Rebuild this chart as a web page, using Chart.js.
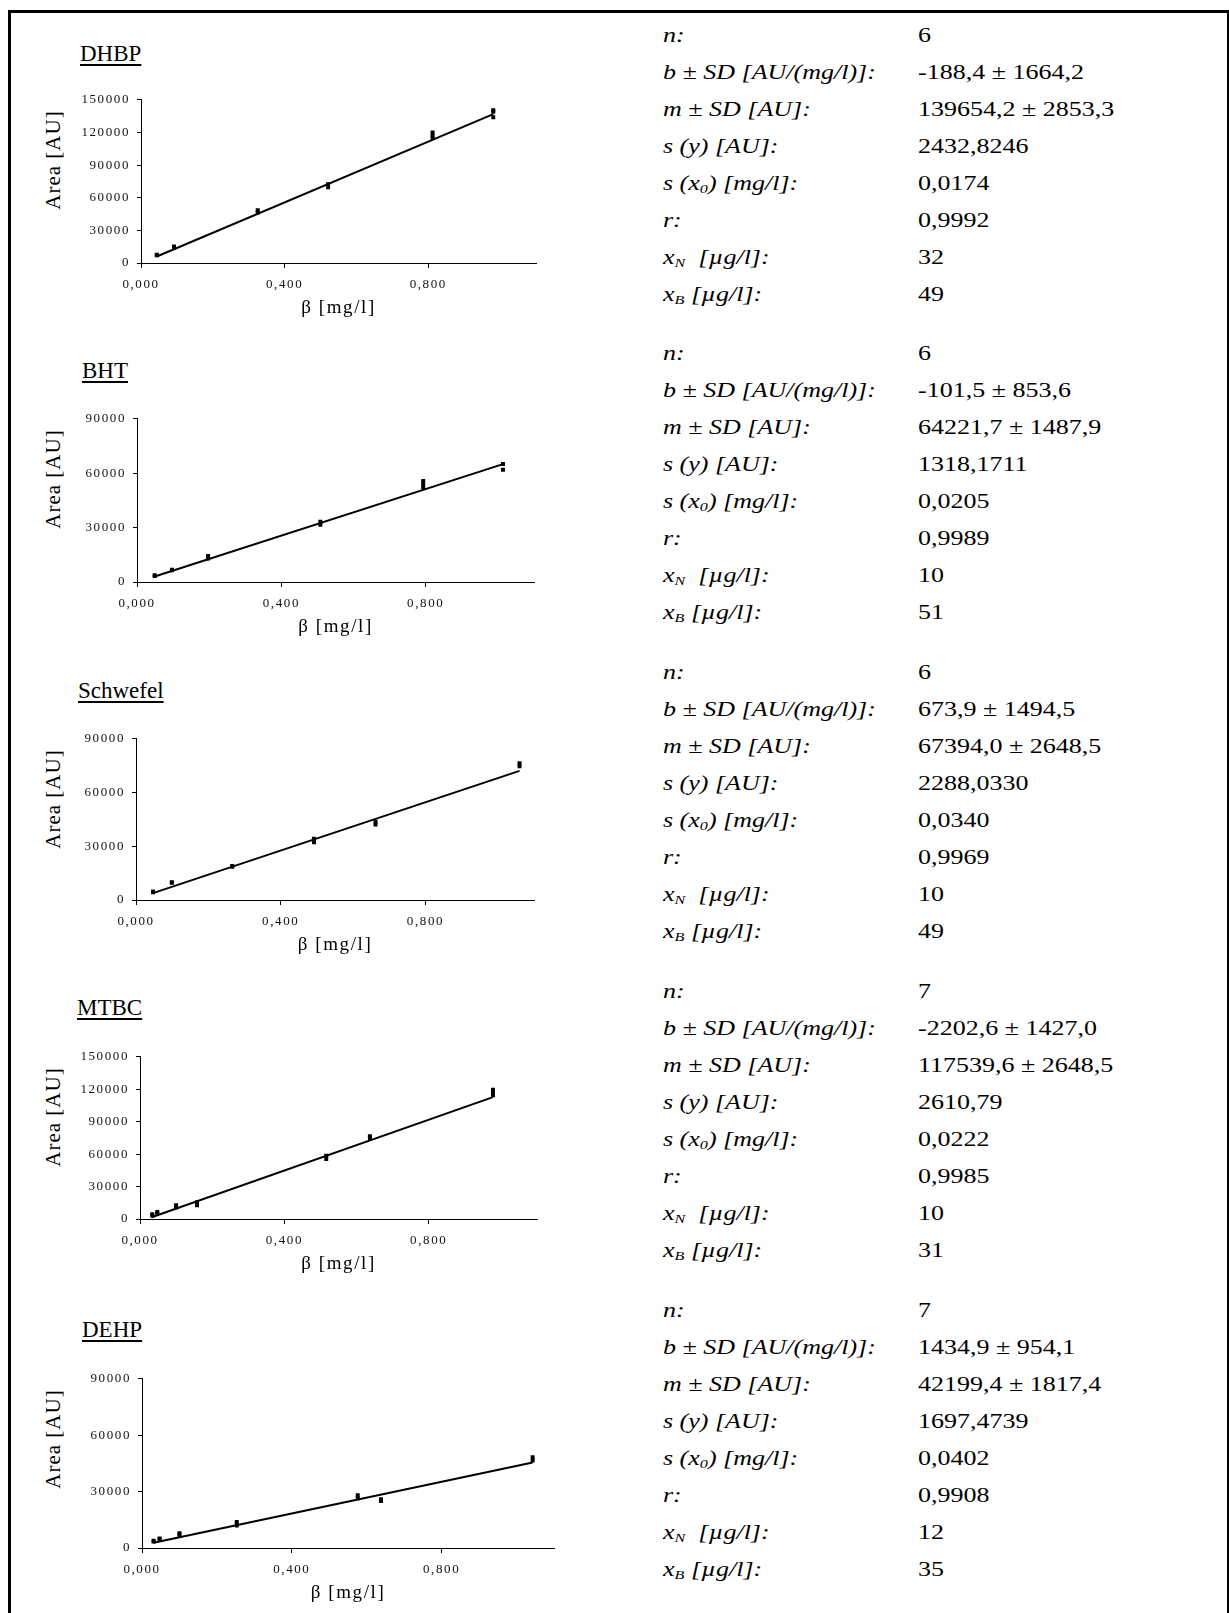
<!DOCTYPE html>
<html lang="de">
<head>
<meta charset="utf-8">
<title>Kalibrierfunktionen</title>
<script src="https://cdn.jsdelivr.net/npm/chart.js@4.4.1/dist/chart.umd.min.js"></script>
<style>
  html, body { margin: 0; padding: 0; background: #fff; }
  #page { position: relative; width: 1229px; height: 1613px; overflow: hidden; background: #fff;
          font-family: "Liberation Serif", "Times New Roman", serif; color: #000; }
  #frame { position: absolute; left: 8px; top: 10px; width: 1216px; height: 1700px;
           border-top: 3px solid #000; border-left: 3px solid #000; border-right: 2px solid #000; }
  canvas.cal { position: absolute; }
  .ptitle { position: absolute; font-size: 23px; line-height: 23px; text-decoration: underline;
            text-decoration-thickness: 1.6px; text-underline-offset: 3px; white-space: nowrap; }
  .ytitle { position: absolute; font-size: 21px; letter-spacing: 1px; white-space: nowrap;
            transform: translate(-50%, -50%) rotate(-90deg); }
  .row { position: absolute; height: 37px; line-height: 37px; font-size: 20px; white-space: nowrap; }
  .row span { display: inline-block; transform: scaleX(1.3); transform-origin: 0 50%; }
  .lab { left: 663px; font-style: italic; }
  .val { left: 918px; }
  sub { font-size: 0.62em; vertical-align: -0.28em; line-height: 0; }
</style>
</head>
<body>
<div id="page">
  <div id="frame"></div>
</div>
<script>
// Substances and their calibration levels (mg/l) with replicate peak areas (AU)
const substances = ['DHBP', 'BHT', 'Schwefel', 'MTBC', 'DEHP'];

const concDHBP = [0.044, 0.092, 0.325, 0.521, 0.812, 0.981];
const areaDHBP = [[7200, 7600], [14000, 15200], [46500, 48500], [69500, 72500], [115000, 117500, 120000], [134000, 139000, 140500]];

const concBHT = [0.049, 0.097, 0.197, 0.508, 0.793, 1.014];
const areaBHT = [[3300, 3700], [6400, 6800], [13000, 14300], [31600, 33200], [52100, 53900, 55700], [61900, 65100]];

const concSchwefel = [0.047, 0.099, 0.266, 0.492, 0.662, 1.060];
const areaSchwefel = [[4300, 4700], [9600, 9900], [18600, 19000], [32200, 34200], [42100, 43700], [74700, 76300]];

const concMTBC = [0.034, 0.048, 0.100, 0.158, 0.516, 0.637, 0.978];
const areaMTBC = [[3000, 4500], [5200, 6500], [10800, 12800], [12600, 15500], [55500, 58500], [74800, 76500], [114500, 117500, 119500]];

const concDEHP = [0.031, 0.047, 0.100, 0.253, 0.576, 0.638, 1.043];
const areaDEHP = [[3500, 3900], [4500, 5000], [7000, 7800], [12000, 13800], [26400, 28100], [25000, 26000], [46500, 48300]];

// Axis ranges and tick steps
const yMaxima = [150000, 90000, 90000, 150000, 90000];
const yStep = 30000;
const xMax = 1.1;
const xStep = 0.4;

// Regression statistics per substance
const nLevels = [6, 6, 6, 7, 7];
const intercepts = [-188.4, -101.5, 673.9, -2202.6, 1434.9];
const interceptSD = [1664.2, 853.6, 1494.5, 1427.0, 954.1];
const slopes = [139654.2, 64221.7, 67394.0, 117539.6, 42199.4];
const slopeSD = [2853.3, 1487.9, 2648.5, 2648.5, 1817.4];
const residualSD = ['2432,8246', '1318,1711', '2288,0330', '2610,79', '1697,4739'];
const methodSD = ['0,0174', '0,0205', '0,0340', '0,0222', '0,0402'];
const correlation = ['0,9992', '0,9989', '0,9969', '0,9985', '0,9908'];
const detectionLimit = [32, 10, 10, 10, 12];
const quantLimit = [49, 51, 49, 31, 35];

const concentrations = [concDHBP, concBHT, concSchwefel, concMTBC, concDEHP];
const areas = [areaDHBP, areaBHT, areaSchwefel, areaMTBC, areaDEHP];

// Plot-area placement of each panel on the page
const panelLayout = [
  { left: 141, top: 95,   width: 395, height: 168, titleX: 80, titleBase: 61 },
  { left: 137, top: 414,  width: 397, height: 168, titleX: 82, titleBase: 378 },
  { left: 136, top: 734,  width: 398, height: 166, titleX: 78, titleBase: 698 },
  { left: 140, top: 1052, width: 397, height: 167, titleX: 77, titleBase: 1015 },
  { left: 142, top: 1374, width: 412, height: 174, titleX: 82, titleBase: 1337 }
];
const Y_AXIS_W = 110, X_AXIS_H = 60, PAD_TOP = 10, PAD_RIGHT = 16;

const page = document.getElementById('page');
const comma = (v, d) => v.toFixed(d).replace('.', ',');
const serif = '"Liberation Serif", "Times New Roman", serif';

// Spreads out the glyphs of tick labels and axis titles a little
const glyphSpacing = {
  id: 'glyphSpacing',
  beforeDraw(chart) { chart.ctx.letterSpacing = '1.6px'; },
  afterDraw(chart) { chart.ctx.letterSpacing = '0px'; }
};

substances.forEach((name, i) => {
  const lay = panelLayout[i];

  // panel heading
  const head = document.createElement('div');
  head.className = 'ptitle';
  head.textContent = name;
  head.style.left = lay.titleX + 'px';
  head.style.top = (lay.titleBase - 19) + 'px';
  page.appendChild(head);

  // y-axis caption
  const yt = document.createElement('div');
  yt.className = 'ytitle';
  yt.textContent = 'Area [AU]';
  yt.style.left = '53px';
  yt.style.top = (lay.top + 65) + 'px';
  page.appendChild(yt);

  const canvas = document.createElement('canvas');
  canvas.className = 'cal';
  const cw = Y_AXIS_W + lay.width + PAD_RIGHT;
  const ch = PAD_TOP + lay.height + X_AXIS_H;
  canvas.width = cw; canvas.height = ch;
  canvas.style.width = cw + 'px'; canvas.style.height = ch + 'px';
  canvas.style.left = (lay.left - Y_AXIS_W) + 'px';
  canvas.style.top = (lay.top - PAD_TOP) + 'px';
  page.appendChild(canvas);

  const conc = concentrations[i];
  const points = [];
  conc.forEach((x, k) => areas[i][k].forEach(y => points.push({ x, y })));

  const xLo = Math.min(...conc), xHi = Math.max(...conc);
  const fit = [xLo, xHi].map(x => ({ x, y: slopes[i] * x + intercepts[i] }));

  new Chart(canvas.getContext('2d'), {
    type: 'scatter',
    data: {
      datasets: [
        { data: fit, showLine: true, borderColor: '#000', borderWidth: 2, pointRadius: 0, order: 1 },
        { data: points, pointStyle: 'rect', pointRadius: 2.8, backgroundColor: '#000',
          borderWidth: 0, order: 0 }
      ]
    },
    options: {
      responsive: false,
      animation: false,
      devicePixelRatio: 1,
      events: [],
      layout: { padding: { left: 0, top: PAD_TOP, right: PAD_RIGHT, bottom: 0 } },
      plugins: { legend: { display: false }, tooltip: { enabled: false } },
      scales: {
        x: {
          type: 'linear', min: 0, max: xMax,
          ticks: { stepSize: xStep, includeBounds: false, autoSkip: false, maxRotation: 0,
                   callback: v => comma(v, 3), color: '#111', padding: 9,
                   font: { family: serif, size: 13 } },
          grid: { drawOnChartArea: false, color: '#000', tickLength: 5, tickWidth: 1 },
          border: { color: '#000', width: 1 },
          title: { display: true, text: 'β [mg/l]', color: '#000',
                   font: { family: serif, size: 19 }, padding: { top: 0, bottom: 4 } },
          afterFit: s => { s.height = X_AXIS_H; }
        },
        y: {
          type: 'linear', min: 0, max: yMaxima[i],
          ticks: { stepSize: yStep, autoSkip: false, callback: v => String(v), color: '#111',
                   padding: 7, font: { family: serif, size: 13 } },
          grid: { drawOnChartArea: false, color: '#000', tickLength: 4, tickWidth: 1 },
          border: { color: '#000', width: 1 },
          afterFit: s => { s.width = Y_AXIS_W; }
        }
      }
    },
    plugins: [glyphSpacing]
  });

  // statistics table next to the panel
  const labels = [
    'n:',
    'b ± SD [AU/(mg/l)]:',
    'm ± SD [AU]:',
    's (y) [AU]:',
    's (x<sub>0</sub>) [mg/l]:',
    'r:',
    'x<sub>N</sub>&nbsp; [µg/l]:',
    'x<sub>B</sub> [µg/l]:'
  ];
  const values = [
    String(nLevels[i]),
    comma(intercepts[i], 1) + ' ± ' + comma(interceptSD[i], 1),
    comma(slopes[i], 1) + ' ± ' + comma(slopeSD[i], 1),
    residualSD[i],
    methodSD[i],
    correlation[i],
    String(detectionLimit[i]),
    String(quantLimit[i])
  ];
  const blockTop = 35 + 318.75 * i;
  labels.forEach((lab, r) => {
    const cy = blockTop + 37 * r;
    const l = document.createElement('div');
    l.className = 'row lab';
    l.style.top = (cy - 18.5) + 'px';
    l.innerHTML = '<span>' + lab + '</span>';
    page.appendChild(l);
    const v = document.createElement('div');
    v.className = 'row val';
    v.style.top = (cy - 18.5) + 'px';
    v.innerHTML = '<span>' + values[r] + '</span>';
    page.appendChild(v);
  });
});
</script>
</body>
</html>
